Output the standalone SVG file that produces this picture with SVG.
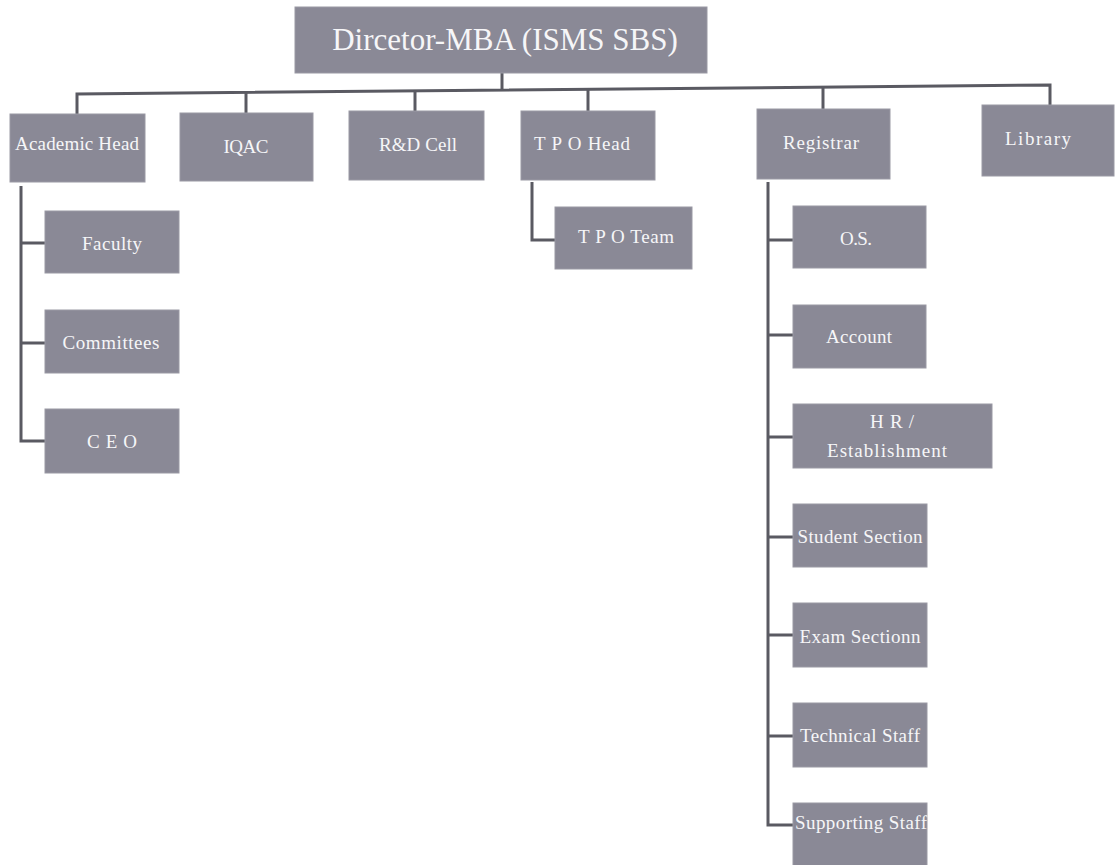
<svg xmlns="http://www.w3.org/2000/svg" width="1117" height="865" viewBox="0 0 1117 865">
<style>
.b{fill:#8a8996;stroke:#9a99a4;stroke-width:1}
.t{font-family:"Liberation Serif","Times New Roman",serif;font-size:19px;fill:#f6f6f8;text-anchor:middle}
.ti{font-size:31px}
.c{fill:none;stroke:#5a5a62;stroke-width:3}
</style>
<rect width="1117" height="865" fill="#ffffff"/>
<g id="connectors">
<path class="c" d="M502 73 V90"/>
<path class="c" d="M77 114 V94 L1050 85 V105"/>
<path class="c" d="M246 92.4 V113"/>
<path class="c" d="M415 90.9 V111"/>
<path class="c" d="M588 89.3 V111"/>
<path class="c" d="M823 87.1 V109"/>
<path class="c" d="M21 186 V441 H45 M21 243 H45 M21 343 H45"/>
<path class="c" d="M532 182 V240 H555"/>
<path class="c" d="M768 182 V825 H793 M768 240 H793 M768 335 H793 M768 437 H793 M768 537 H793 M768 635 H793 M768 736 H793"/>
</g>
<g id="director"><rect class="b" x="295" y="7" width="412" height="66"/><text class="t ti" x="505" y="50">Dircetor-MBA (ISMS SBS)</text></g>
<g id="academic-head"><rect class="b" x="10" y="114" width="135" height="68"/><text class="t" x="77" y="150" textLength="124">Academic Head</text></g>
<g id="iqac"><rect class="b" x="180" y="113" width="133" height="68"/><text class="t" x="246" y="153" textLength="45">IQAC</text></g>
<g id="rd-cell"><rect class="b" x="349" y="111" width="135" height="69"/><text class="t" x="418" y="151" textLength="78">R&amp;D Cell</text></g>
<g id="tpo-head"><rect class="b" x="521" y="111" width="134" height="69"/><text class="t" x="582" y="150" textLength="96">T P O Head</text></g>
<g id="registrar"><rect class="b" x="757" y="109" width="133" height="70"/><text class="t" x="821" y="149" textLength="76">Registrar</text></g>
<g id="library"><rect class="b" x="982" y="105" width="132" height="71"/><text class="t" x="1038" y="145" textLength="66">Library</text></g>
<g id="faculty"><rect class="b" x="45" y="211" width="134" height="62"/><text class="t" x="112" y="250" textLength="60">Faculty</text></g>
<g id="committees"><rect class="b" x="45" y="310" width="134" height="63"/><text class="t" x="111" y="349" textLength="97">Committees</text></g>
<g id="ceo"><rect class="b" x="45" y="409" width="134" height="64"/><text class="t" x="112" y="448" textLength="50">C E O</text></g>
<g id="tpo-team"><rect class="b" x="555" y="207" width="137" height="62"/><text class="t" x="626" y="243" textLength="96">T P O Team</text></g>
<g id="os"><rect class="b" x="793" y="206" width="133" height="62"/><text class="t" x="856" y="245" textLength="32">O.S.</text></g>
<g id="account"><rect class="b" x="793" y="305" width="133" height="63"/><text class="t" x="859" y="343" textLength="66">Account</text></g>
<g id="hr"><rect class="b" x="793" y="404" width="199" height="64"/><text class="t" x="892" y="428" textLength="44">H R /</text><text class="t" x="887" y="457" textLength="120">Establishment</text></g>
<g id="student-section"><rect class="b" x="793" y="504" width="134" height="63"/><text class="t" x="860" y="543" textLength="125">Student Section</text></g>
<g id="exam-section"><rect class="b" x="793" y="603" width="134" height="64"/><text class="t" x="860" y="643" textLength="121">Exam Sectionn</text></g>
<g id="technical-staff"><rect class="b" x="793" y="703" width="134" height="64"/><text class="t" x="860" y="742" textLength="120">Technical Staff</text></g>
<g id="supporting-staff"><rect class="b" x="793" y="803" width="134" height="64"/><text class="t" x="861" y="829" textLength="132">Supporting Staff</text></g>
</svg>
